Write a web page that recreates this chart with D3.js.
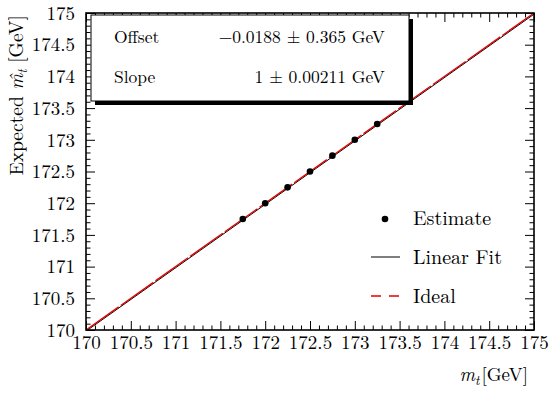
<!DOCTYPE html>
<html>
<head>
<meta charset="utf-8">
<script src="https://cdn.jsdelivr.net/npm/d3@7"></script>
<style>
  html, body { margin: 0; padding: 0; background: #fff; }
</style>
</head>
<body>
<svg id="chart" width="550" height="394"></svg>
<script>
// Generated top-quark mass points and the expected (reconstructed) mass
const trueMass = [171.75, 172.0, 172.25, 172.5, 172.75, 173.0, 173.25];
const expectedMass = [171.75, 172.0, 172.25, 172.5, 172.75, 173.0, 173.25];

// Linear fit result
const fitOffset = -0.0188;
const fitOffsetErr = 0.365;
const fitSlope = 1;
const fitSlopeErr = 0.00211;

// Axis range and labelled ticks
const axisRange = [170, 175];
const majorTicks = [170, 170.5, 171, 171.5, 172, 172.5, 173, 173.5, 174, 174.5, 175];
const legendLabels = ["Estimate", "Linear Fit", "Ideal"];

const FONT = "'Latin Modern Roman', 'CMU Serif', 'Liberation Serif', serif";
const RED = "#e40000";

const svg = d3.select("#chart");
const W = 550, H = 394;
const plot = { left: 86, right: 534, top: 13, bottom: 330 };

const x = d3.scaleLinear().domain(axisRange).range([plot.left, plot.right]);
const y = d3.scaleLinear().domain(axisRange).range([plot.bottom, plot.top]);

const minorTicks = d3.range(0, 51).map(i => axisRange[0] + i * 0.1)
  .filter(v => Math.abs(v * 2 - Math.round(v * 2)) > 1e-6);

svg.append("rect").attr("width", W).attr("height", H).attr("fill", "#fff");

svg.append("defs").append("clipPath").attr("id", "plotClip")
  .append("rect")
  .attr("x", plot.left).attr("y", plot.top)
  .attr("width", plot.right - plot.left).attr("height", plot.bottom - plot.top);

const inner = svg.append("g").attr("clip-path", "url(#plotClip)");

// Linear fit line
const line = d3.line().x(d => x(d[0])).y(d => y(d[1]));
inner.append("path")
  .datum(axisRange.map(v => [v, fitOffset + fitSlope * v]))
  .attr("d", line)
  .attr("fill", "none").attr("stroke", "#000").attr("stroke-width", 1);

// Ideal line y = x
inner.append("path")
  .datum(axisRange.map(v => [v, v]))
  .attr("d", line)
  .attr("fill", "none").attr("stroke", RED).attr("stroke-width", 1.3)
  .attr("stroke-dasharray", "40,2.5");

// Estimates
inner.selectAll("circle.pt")
  .data(trueMass.map((m, i) => [m, expectedMass[i]]))
  .join("circle")
  .attr("class", "pt")
  .attr("cx", d => x(d[0])).attr("cy", d => y(d[1]))
  .attr("r", 3.3).attr("fill", "#000");

// Inward ticks on all four sides
function styleAxis(g) {
  g.select(".domain").remove();
  g.selectAll(".tick line").attr("stroke", "#000").attr("stroke-width", 1);
  g.selectAll(".tick text")
    .style("font-family", FONT)
    .style("font-size", "19px").attr("fill", "#000");
}
const MAJ = 9, MIN = 4.5;

// bottom
svg.append("g").attr("transform", `translate(0,${plot.bottom})`)
  .call(d3.axisBottom(x).tickValues(majorTicks).tickSizeInner(-MAJ).tickSizeOuter(0)
    .tickPadding(6).tickFormat(d3.format("")))
  .call(styleAxis)
  .call(g => g.selectAll(".tick text").attr("dy", "0.7em"));
svg.append("g").attr("transform", `translate(0,${plot.bottom})`)
  .call(d3.axisBottom(x).tickValues(minorTicks).tickSizeInner(-MIN).tickSizeOuter(0).tickFormat(""))
  .call(styleAxis);

// top
svg.append("g").attr("transform", `translate(0,${plot.top})`)
  .call(d3.axisTop(x).tickValues(majorTicks).tickSizeInner(-MAJ).tickSizeOuter(0).tickFormat(""))
  .call(styleAxis);
svg.append("g").attr("transform", `translate(0,${plot.top})`)
  .call(d3.axisTop(x).tickValues(minorTicks).tickSizeInner(-MIN).tickSizeOuter(0).tickFormat(""))
  .call(styleAxis);

// left
svg.append("g").attr("transform", `translate(${plot.left},0)`)
  .call(d3.axisLeft(y).tickValues(majorTicks).tickSizeInner(-MAJ).tickSizeOuter(0)
    .tickPadding(11).tickFormat(d3.format("")))
  .call(styleAxis)
  .call(g => g.selectAll(".tick text").attr("dy", "0.33em"));
svg.append("g").attr("transform", `translate(${plot.left},0)`)
  .call(d3.axisLeft(y).tickValues(minorTicks).tickSizeInner(-MIN).tickSizeOuter(0).tickFormat(""))
  .call(styleAxis);

// right
svg.append("g").attr("transform", `translate(${plot.right},0)`)
  .call(d3.axisRight(y).tickValues(majorTicks).tickSizeInner(-MAJ).tickSizeOuter(0).tickFormat(""))
  .call(styleAxis);
svg.append("g").attr("transform", `translate(${plot.right},0)`)
  .call(d3.axisRight(y).tickValues(minorTicks).tickSizeInner(-MIN).tickSizeOuter(0).tickFormat(""))
  .call(styleAxis);

// Fit-result box with drop shadow
const box = { x: 91, y: 15, w: 318, h: 86, shadow: 4 };
svg.append("rect")
  .attr("x", box.x + box.shadow).attr("y", box.y + box.shadow)
  .attr("width", box.w).attr("height", box.h).attr("fill", "#000");
svg.append("rect")
  .attr("x", box.x).attr("y", box.y).attr("width", box.w).attr("height", box.h)
  .attr("fill", "#fff").attr("stroke", "#000").attr("stroke-width", 1);

const boxFont = "17.5px";
const rows = [
  { label: "Offset", value: `\u2212${Math.abs(fitOffset)} \u00b1 ${fitOffsetErr} GeV`, yPos: 43 },
  { label: "Slope", value: `${fitSlope} \u00b1 ${fitSlopeErr} GeV`, yPos: 83 }
];
rows.forEach(r => {
  svg.append("text").attr("x", 114).attr("y", r.yPos)
    .style("font-family", FONT).style("font-size", boxFont).text(r.label);
  svg.append("text").attr("x", 385).attr("y", r.yPos)
    .attr("text-anchor", "end").style("font-family", FONT).style("font-size", boxFont)
    .attr("xml:space", "preserve").text(r.value);
});

// Plot frame
svg.append("rect")
  .attr("x", plot.left).attr("y", plot.top)
  .attr("width", plot.right - plot.left).attr("height", plot.bottom - plot.top)
  .attr("fill", "none").attr("stroke", "#000").attr("stroke-width", 1.6);

// Legend
const legFont = "20px";
const leg = svg.append("g");
leg.append("circle").attr("cx", 385).attr("cy", 219).attr("r", 3.3).attr("fill", "#000");
leg.append("line").attr("x1", 371).attr("x2", 400).attr("y1", 257).attr("y2", 257)
  .attr("stroke", "#000").attr("stroke-width", 1);
leg.append("line").attr("x1", 371).attr("x2", 400).attr("y1", 296).attr("y2", 296)
  .attr("stroke", RED).attr("stroke-width", 1.3).attr("stroke-dasharray", "10,8");
[225, 264, 303].forEach((yy, i) => {
  leg.append("text").attr("x", 413).attr("y", yy)
    .style("font-family", FONT).style("font-size", legFont).text(legendLabels[i]);
});

// Axis titles
const xt = svg.append("text").attr("x", 528).attr("y", 381)
  .attr("text-anchor", "end").style("font-family", FONT).style("font-size", "19px");
xt.append("tspan").attr("font-style", "italic").text("m");
xt.append("tspan").attr("font-style", "italic").style("font-size", "13.5px").attr("dy", 4).text("t");
xt.append("tspan").attr("dy", -4).attr("dx", 2).text("[GeV]");

const yt = svg.append("text").attr("transform", "translate(23,15) rotate(-90)")
  .attr("text-anchor", "end").style("font-family", FONT).style("font-size", "19.5px");
yt.append("tspan").text("Expected ");
yt.append("tspan").attr("font-style", "italic").text("m\u0302");
yt.append("tspan").attr("font-style", "italic").style("font-size", "13.5px").attr("dy", 4).text("t");
yt.append("tspan").attr("dy", -4).text(" [GeV]");
</script>
</body>
</html>
